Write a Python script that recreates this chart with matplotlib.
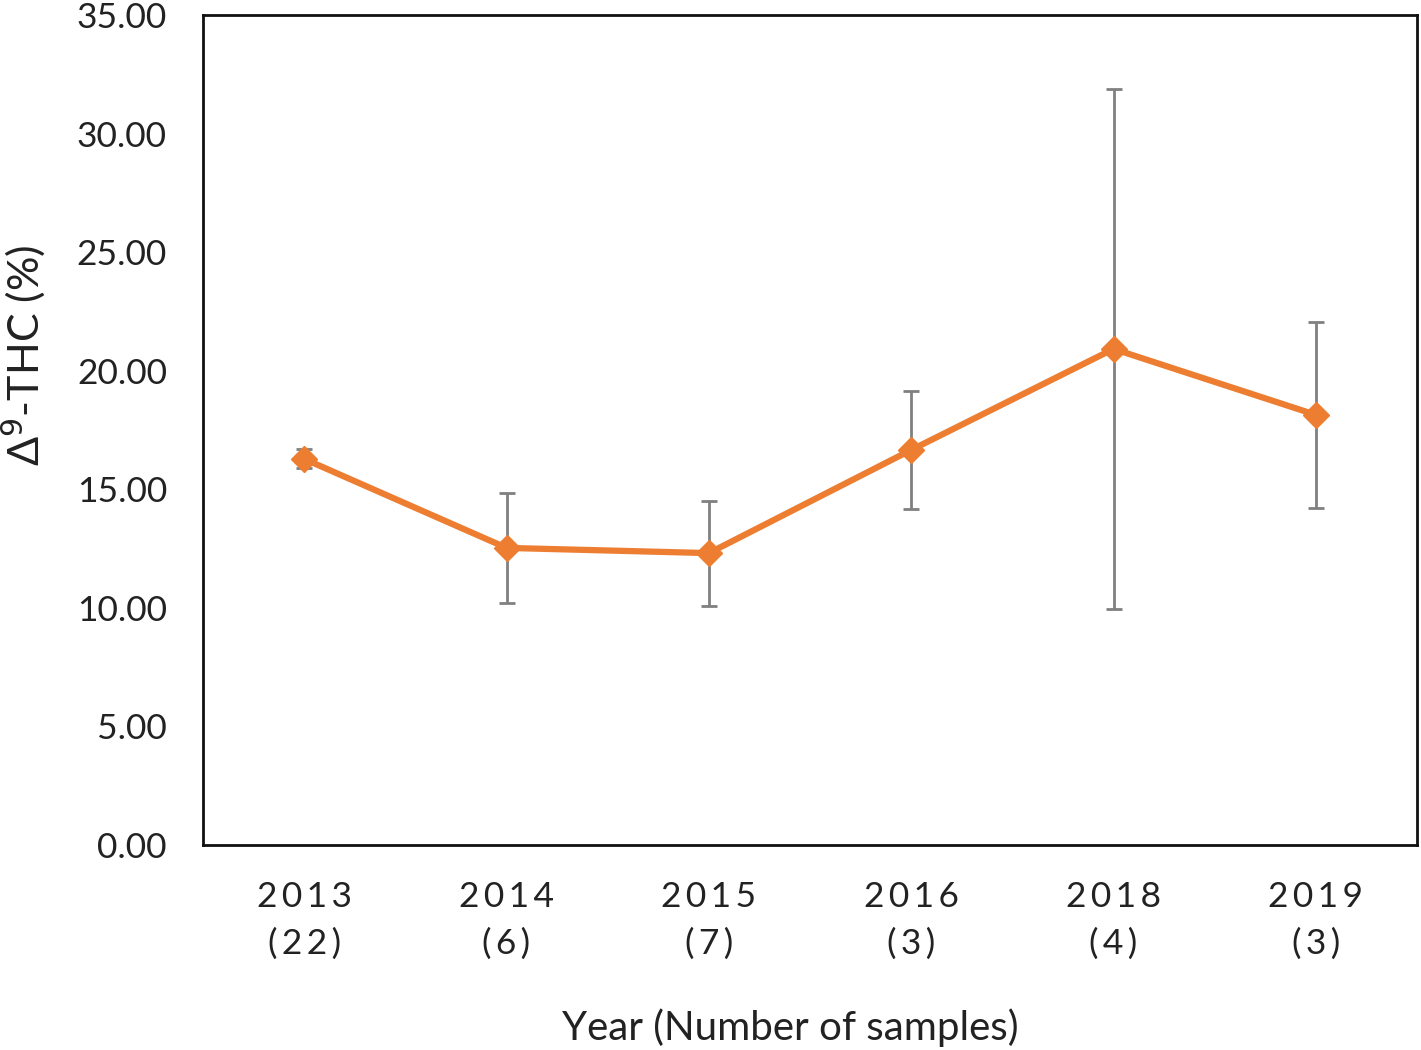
import matplotlib
matplotlib.use("Agg")
import matplotlib.pyplot as plt

years = ["2013", "2014", "2015", "2016", "2018", "2019"]
samples = ["22", "6", "7", "3", "4", "3"]
thc = [16.28, 12.53, 12.31, 16.66, 20.92, 18.14]
err = [0.40, 2.32, 2.21, 2.49, 10.95, 3.92]

plt.rcParams['font.family'] = ['Lato', 'DejaVu Sans']

fig = plt.figure(figsize=(14.21, 10.5), dpi=100)
ax = fig.add_axes([0.1429, 0.1952, 0.8543, 0.7905])

x = list(range(len(years)))
ax.errorbar(x, thc, yerr=err, fmt='none', ecolor='#808080', elinewidth=2.0,
            capsize=6, capthick=2.0, zorder=2)
ax.plot(x, thc, color='#ED7D31', linewidth=4.5, marker='D', markersize=13,
        zorder=3)

def spaced(s):
    return "\u2009".join(s)

ax.set_xlim(-0.5, len(years) - 0.5)
ax.set_ylim(0, 35)
yt = [0, 5, 10, 15, 20, 25, 30, 35]
ax.set_yticks(yt)
ax.set_yticklabels([f"{v:.2f}" for v in yt])
ax.set_xticks(x)
ax.set_xticklabels([spaced(y) + "\n" + spaced(f"({n})") for y, n in zip(years, samples)],
                   linespacing=1.55)
ax.tick_params(axis='both', length=0, labelsize=25.5, colors='#222222')
ax.tick_params(axis='x', pad=26)
ax.tick_params(axis='y', pad=26)
for s in ax.spines.values():
    s.set_linewidth(2.0)
    s.set_color('#111111')

ax.set_ylabel("Δ$^{9}$-THC (%)", fontsize=31, color='#222222')
ax.yaxis.set_label_coords(-0.128, 0.59)
ax.set_xlabel("Year (Number of samples)", fontsize=29, color='#222222')
ax.xaxis.set_label_coords(0.4835, -0.197)

fig.savefig("out.png", dpi=100)
